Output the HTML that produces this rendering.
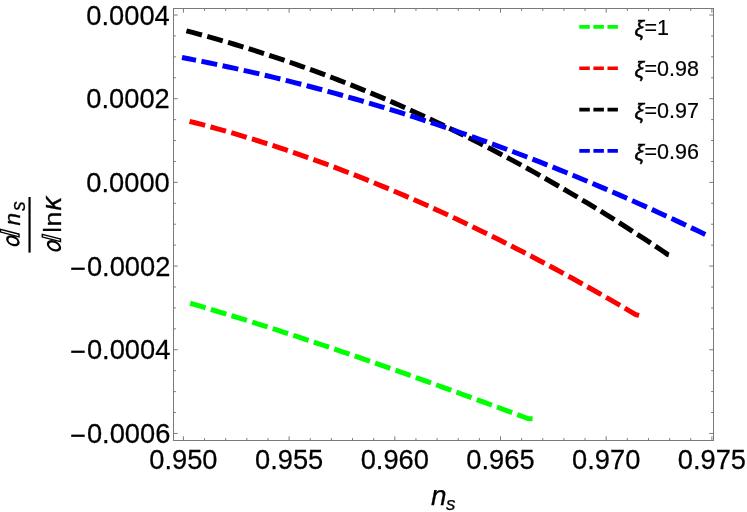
<!DOCTYPE html><html><head><meta charset="utf-8"><title>plot</title>
<style>html,body{margin:0;padding:0;background:#fff;}svg{display:block;will-change:transform;}text{font-family:"Liberation Sans",sans-serif;fill:#000;}</style></head><body>
<svg width="747" height="512" viewBox="0 0 747 512">
<rect x="0" y="0" width="747" height="512" fill="#fff"/>
<g stroke="#7a7a7a" stroke-width="1" fill="none" shape-rendering="auto">
<rect x="173.50" y="8.50" width="540.00" height="432.00"/>
<path d="M183.40 440.50 v-4.20 M183.40 8.50 v4.20"/>
<path d="M204.54 440.50 v-2.40 M204.54 8.50 v2.40"/>
<path d="M225.68 440.50 v-2.40 M225.68 8.50 v2.40"/>
<path d="M246.82 440.50 v-2.40 M246.82 8.50 v2.40"/>
<path d="M267.96 440.50 v-2.40 M267.96 8.50 v2.40"/>
<path d="M289.10 440.50 v-4.20 M289.10 8.50 v4.20"/>
<path d="M310.24 440.50 v-2.40 M310.24 8.50 v2.40"/>
<path d="M331.38 440.50 v-2.40 M331.38 8.50 v2.40"/>
<path d="M352.52 440.50 v-2.40 M352.52 8.50 v2.40"/>
<path d="M373.66 440.50 v-2.40 M373.66 8.50 v2.40"/>
<path d="M394.80 440.50 v-4.20 M394.80 8.50 v4.20"/>
<path d="M415.94 440.50 v-2.40 M415.94 8.50 v2.40"/>
<path d="M437.08 440.50 v-2.40 M437.08 8.50 v2.40"/>
<path d="M458.22 440.50 v-2.40 M458.22 8.50 v2.40"/>
<path d="M479.36 440.50 v-2.40 M479.36 8.50 v2.40"/>
<path d="M500.50 440.50 v-4.20 M500.50 8.50 v4.20"/>
<path d="M521.64 440.50 v-2.40 M521.64 8.50 v2.40"/>
<path d="M542.78 440.50 v-2.40 M542.78 8.50 v2.40"/>
<path d="M563.92 440.50 v-2.40 M563.92 8.50 v2.40"/>
<path d="M585.06 440.50 v-2.40 M585.06 8.50 v2.40"/>
<path d="M606.20 440.50 v-4.20 M606.20 8.50 v4.20"/>
<path d="M627.34 440.50 v-2.40 M627.34 8.50 v2.40"/>
<path d="M648.48 440.50 v-2.40 M648.48 8.50 v2.40"/>
<path d="M669.62 440.50 v-2.40 M669.62 8.50 v2.40"/>
<path d="M690.76 440.50 v-2.40 M690.76 8.50 v2.40"/>
<path d="M711.90 440.50 v-4.20 M711.90 8.50 v4.20"/>
<path d="M173.50 433.45 h4.20 M713.50 433.45 h-4.20"/>
<path d="M173.50 412.53 h2.40 M713.50 412.53 h-2.40"/>
<path d="M173.50 391.60 h2.40 M713.50 391.60 h-2.40"/>
<path d="M173.50 370.68 h2.40 M713.50 370.68 h-2.40"/>
<path d="M173.50 349.76 h4.20 M713.50 349.76 h-4.20"/>
<path d="M173.50 328.84 h2.40 M713.50 328.84 h-2.40"/>
<path d="M173.50 307.92 h2.40 M713.50 307.92 h-2.40"/>
<path d="M173.50 286.99 h2.40 M713.50 286.99 h-2.40"/>
<path d="M173.50 266.07 h4.20 M713.50 266.07 h-4.20"/>
<path d="M173.50 245.15 h2.40 M713.50 245.15 h-2.40"/>
<path d="M173.50 224.22 h2.40 M713.50 224.22 h-2.40"/>
<path d="M173.50 203.30 h2.40 M713.50 203.30 h-2.40"/>
<path d="M173.50 182.38 h4.20 M713.50 182.38 h-4.20"/>
<path d="M173.50 161.46 h2.40 M713.50 161.46 h-2.40"/>
<path d="M173.50 140.54 h2.40 M713.50 140.54 h-2.40"/>
<path d="M173.50 119.61 h2.40 M713.50 119.61 h-2.40"/>
<path d="M173.50 98.69 h4.20 M713.50 98.69 h-4.20"/>
<path d="M173.50 77.77 h2.40 M713.50 77.77 h-2.40"/>
<path d="M173.50 56.84 h2.40 M713.50 56.84 h-2.40"/>
<path d="M173.50 35.92 h2.40 M713.50 35.92 h-2.40"/>
<path d="M173.50 15.00 h4.20 M713.50 15.00 h-4.20"/>
</g>
<g font-size="27.30" stroke="#000" stroke-width="0.25">
<text transform="translate(183.40,469.10) scale(1,1.035)" text-anchor="middle">0.950</text>
<text transform="translate(289.10,469.10) scale(1,1.035)" text-anchor="middle">0.955</text>
<text transform="translate(394.80,469.10) scale(1,1.035)" text-anchor="middle">0.960</text>
<text transform="translate(500.50,469.10) scale(1,1.035)" text-anchor="middle">0.965</text>
<text transform="translate(606.20,469.10) scale(1,1.035)" text-anchor="middle">0.970</text>
<text transform="translate(711.90,469.10) scale(1,1.035)" text-anchor="middle">0.975</text>
<text transform="translate(171.70,443.15) scale(1,1.035)" text-anchor="end"><tspan dx="-1.3" dy="1.8">−</tspan><tspan dx="0.9" dy="-1.8">0.0006</tspan></text>
<text transform="translate(171.70,359.46) scale(1,1.035)" text-anchor="end"><tspan dx="-1.3" dy="1.8">−</tspan><tspan dx="0.9" dy="-1.8">0.0004</tspan></text>
<text transform="translate(171.70,275.77) scale(1,1.035)" text-anchor="end"><tspan dx="-1.3" dy="1.8">−</tspan><tspan dx="0.9" dy="-1.8">0.0002</tspan></text>
<text transform="translate(169.80,192.08) scale(1,1.035)" text-anchor="end">0.0000</text>
<text transform="translate(169.80,108.39) scale(1,1.035)" text-anchor="end">0.0002</text>
<text transform="translate(169.80,24.70) scale(1,1.035)" text-anchor="end">0.0004</text>
</g>
<path d="M189.80 303.15 L194.08 304.40 L198.36 305.66 L202.64 306.93 L206.92 308.20 L211.21 309.48 L215.49 310.77 L219.77 312.06 L224.05 313.37 L228.33 314.67 L232.61 315.99 L236.89 317.31 L241.17 318.64 L245.45 319.97 L249.73 321.31 L254.02 322.66 L258.30 324.01 L262.58 325.37 L266.86 326.74 L271.14 328.11 L275.42 329.48 L279.70 330.87 L283.98 332.26 L288.26 333.65 L292.54 335.05 L296.83 336.46 L301.11 337.87 L305.39 339.29 L309.67 340.71 L313.95 342.13 L318.23 343.57 L322.51 345.00 L326.79 346.45 L331.07 347.89 L335.35 349.35 L339.64 350.80 L343.92 352.27 L348.20 353.73 L352.48 355.20 L356.76 356.68 L361.04 358.16 L365.32 359.64 L369.60 361.13 L373.88 362.63 L378.16 364.12 L382.45 365.63 L386.73 367.13 L391.01 368.64 L395.29 370.15 L399.57 371.67 L403.85 373.19 L408.13 374.72 L412.41 376.24 L416.69 377.78 L420.97 379.31 L425.26 380.85 L429.54 382.39 L433.82 383.93 L438.10 385.48 L442.38 387.03 L446.66 388.59 L450.94 390.14 L455.22 391.70 L459.50 393.27 L463.78 394.83 L468.07 396.40 L472.35 397.97 L476.63 399.54 L480.91 401.12 L485.19 402.69 L489.47 404.27 L493.75 405.85 L498.03 407.44 L502.31 409.02 L506.59 410.61 L510.88 412.20 L515.16 413.79 L519.44 415.39 L523.72 416.98 L528.00 418.58 L532.60 418.80" fill="none" stroke="#00ff00" stroke-width="5.00" stroke-dasharray="16.08 5.52" stroke-dashoffset="-0.40"/>
<path d="M189.30 121.27 L194.95 122.72 L200.60 124.20 L206.26 125.70 L211.91 127.24 L217.56 128.80 L223.21 130.39 L228.86 132.01 L234.52 133.66 L240.17 135.33 L245.82 137.03 L251.47 138.76 L257.12 140.51 L262.77 142.30 L268.43 144.11 L274.08 145.94 L279.73 147.81 L285.38 149.70 L291.03 151.62 L296.69 153.56 L302.34 155.53 L307.99 157.53 L313.64 159.55 L319.29 161.60 L324.95 163.67 L330.60 165.77 L336.25 167.90 L341.90 170.05 L347.55 172.23 L353.21 174.43 L358.86 176.66 L364.51 178.92 L370.16 181.20 L375.81 183.50 L381.46 185.83 L387.12 188.18 L392.77 190.56 L398.42 192.96 L404.07 195.39 L409.72 197.84 L415.38 200.32 L421.03 202.82 L426.68 205.34 L432.33 207.89 L437.98 210.46 L443.64 213.06 L449.29 215.68 L454.94 218.32 L460.59 220.99 L466.24 223.68 L471.89 226.39 L477.55 229.13 L483.20 231.88 L488.85 234.67 L494.50 237.47 L500.15 240.30 L505.81 243.15 L511.46 246.02 L517.11 248.91 L522.76 251.83 L528.41 254.77 L534.07 257.73 L539.72 260.71 L545.37 263.71 L551.02 266.74 L556.67 269.79 L562.33 272.86 L567.98 275.95 L573.63 279.06 L579.28 282.19 L584.93 285.34 L590.58 288.52 L596.24 291.71 L601.89 294.93 L607.54 298.17 L613.19 301.42 L618.84 304.70 L624.50 308.00 L630.15 311.32 L635.80 314.65 L639.40 315.50" fill="none" stroke="#ff0000" stroke-width="5.00" stroke-dasharray="16.08 5.52" stroke-dashoffset="-0.30"/>
<path d="M186.40 30.84 L192.49 32.44 L198.58 34.07 L204.67 35.74 L210.76 37.43 L216.86 39.15 L222.95 40.91 L229.04 42.69 L235.13 44.51 L241.22 46.36 L247.31 48.24 L253.40 50.14 L259.49 52.08 L265.58 54.05 L271.68 56.05 L277.77 58.09 L283.86 60.15 L289.95 62.24 L296.04 64.37 L302.13 66.52 L308.22 68.71 L314.31 70.93 L320.41 73.18 L326.50 75.46 L332.59 77.77 L338.68 80.12 L344.77 82.49 L350.86 84.90 L356.95 87.34 L363.04 89.81 L369.13 92.31 L375.23 94.84 L381.32 97.41 L387.41 100.00 L393.50 102.63 L399.59 105.29 L405.68 107.98 L411.77 110.70 L417.86 113.46 L423.95 116.25 L430.05 119.07 L436.14 121.92 L442.23 124.80 L448.32 127.72 L454.41 130.66 L460.50 133.64 L466.59 136.65 L472.68 139.70 L478.77 142.77 L484.87 145.88 L490.96 149.02 L497.05 152.20 L503.14 155.40 L509.23 158.64 L515.32 161.91 L521.41 165.21 L527.50 168.55 L533.59 171.92 L539.69 175.32 L545.78 178.75 L551.87 182.22 L557.96 185.72 L564.05 189.25 L570.14 192.82 L576.23 196.42 L582.32 200.05 L588.42 203.71 L594.51 207.41 L600.60 211.14 L606.69 214.90 L612.78 218.70 L618.87 222.53 L624.96 226.39 L631.05 230.29 L637.14 234.22 L643.24 238.18 L649.33 242.18 L655.42 246.21 L661.51 250.27 L667.60 254.37 L669.60 255.00" fill="none" stroke="#000000" stroke-width="5.00" stroke-dasharray="16.08 5.52" stroke-dashoffset="0.00"/>
<path d="M182.00 57.53 L188.62 58.80 L195.25 60.09 L201.87 61.41 L208.50 62.76 L215.12 64.13 L221.74 65.52 L228.37 66.95 L234.99 68.39 L241.62 69.86 L248.24 71.36 L254.86 72.88 L261.49 74.43 L268.11 76.00 L274.74 77.60 L281.36 79.23 L287.98 80.87 L294.61 82.55 L301.23 84.25 L307.86 85.97 L314.48 87.72 L321.11 89.49 L327.73 91.29 L334.35 93.12 L340.98 94.97 L347.60 96.84 L354.23 98.74 L360.85 100.66 L367.47 102.61 L374.10 104.58 L380.72 106.58 L387.35 108.61 L393.97 110.65 L400.59 112.73 L407.22 114.82 L413.84 116.95 L420.47 119.09 L427.09 121.27 L433.71 123.46 L440.34 125.68 L446.96 127.93 L453.59 130.20 L460.21 132.49 L466.83 134.81 L473.46 137.16 L480.08 139.53 L486.71 141.92 L493.33 144.34 L499.95 146.78 L506.58 149.24 L513.20 151.74 L519.83 154.25 L526.45 156.79 L533.07 159.35 L539.70 161.94 L546.32 164.55 L552.95 167.19 L559.57 169.85 L566.19 172.54 L572.82 175.25 L579.44 177.98 L586.07 180.74 L592.69 183.52 L599.32 186.33 L605.94 189.16 L612.56 192.01 L619.19 194.89 L625.81 197.79 L632.44 200.72 L639.06 203.67 L645.68 206.64 L652.31 209.64 L658.93 212.66 L665.56 215.71 L672.18 218.78 L678.80 221.87 L685.43 224.99 L692.05 228.13 L698.68 231.30 L705.30 234.49" fill="none" stroke="#0000ff" stroke-width="5.00" stroke-dasharray="16.08 5.52" stroke-dashoffset="1.80"/>
<path d="M579.3 26.90 H617.9" stroke="#00ff00" stroke-width="3.6" stroke-dasharray="10.5 3.6" fill="none"/>
<text x="634.4" y="35.05" font-size="21.5" stroke="#000" stroke-width="0.2"><tspan font-style="italic" font-size="21.8" stroke-width="0.45" dy="0.9">ξ</tspan><tspan dy="-0.9" dx="0.3">=1</tspan></text>
<path d="M579.3 68.25 H617.9" stroke="#ff0000" stroke-width="3.6" stroke-dasharray="10.5 3.6" fill="none"/>
<text x="634.4" y="76.40" font-size="21.5" stroke="#000" stroke-width="0.2"><tspan font-style="italic" font-size="21.8" stroke-width="0.45" dy="0.9">ξ</tspan><tspan dy="-0.9" dx="0.3">=0.98</tspan></text>
<path d="M579.3 109.60 H617.9" stroke="#000000" stroke-width="3.6" stroke-dasharray="10.5 3.6" fill="none"/>
<text x="634.4" y="117.75" font-size="21.5" stroke="#000" stroke-width="0.2"><tspan font-style="italic" font-size="21.8" stroke-width="0.45" dy="0.9">ξ</tspan><tspan dy="-0.9" dx="0.3">=0.97</tspan></text>
<path d="M579.3 150.90 H617.9" stroke="#0000ff" stroke-width="3.6" stroke-dasharray="10.5 3.6" fill="none"/>
<text x="634.4" y="159.05" font-size="21.5" stroke="#000" stroke-width="0.2"><tspan font-style="italic" font-size="21.8" stroke-width="0.45" dy="0.9">ξ</tspan><tspan dy="-0.9" dx="0.3">=0.96</tspan></text>
<text x="431" y="505.4" font-size="28" font-style="italic" stroke="#000" stroke-width="0.25">n<tspan font-size="19" dy="4.4" dx="-0.7">s</tspan></text>
<path d="M29.55 197 V252.6" stroke="#000" stroke-width="2.2"/>
<g transform="translate(19.70,246.30) rotate(-90) scale(1,-1) matrix(1,0,0.260,1,0,0)" fill="none" stroke="#000"><ellipse cx="3.73" cy="6.80" rx="4.06" ry="5.65" stroke-width="2.30"/><path d="M9.30 0.70 h2.70 v18.60 h-2.70 z" stroke-width="1.40"/></g>
<text transform="translate(19.70,225.60) rotate(-90)" font-size="22.50" font-style="italic" stroke="#000" stroke-width="0.3">n</text>
<text transform="translate(24.80,211.00) rotate(-90)" font-size="19.30" font-style="italic" stroke="#000" stroke-width="0.3">s</text>
<g transform="translate(61.20,251.60) rotate(-90) scale(1,-1) matrix(1,0,0.260,1,0,0)" fill="none" stroke="#000"><ellipse cx="3.88" cy="7.20" rx="4.29" ry="6.05" stroke-width="2.30"/><path d="M9.70 0.70 h2.70 v18.20 h-2.70 z" stroke-width="1.40"/></g>
<text transform="translate(61.20,232.50) rotate(-90)" font-size="23.00" stroke="#000" stroke-width="0.3">l</text>
<text transform="translate(61.20,226.40) rotate(-90) scale(1.150,1)" font-size="23.00" stroke="#000" stroke-width="0.3">n</text>
<text transform="translate(61.20,210.60) rotate(-90)" font-size="27.50" font-style="italic" stroke="#000" stroke-width="0.3">κ</text>
</svg></body></html>
